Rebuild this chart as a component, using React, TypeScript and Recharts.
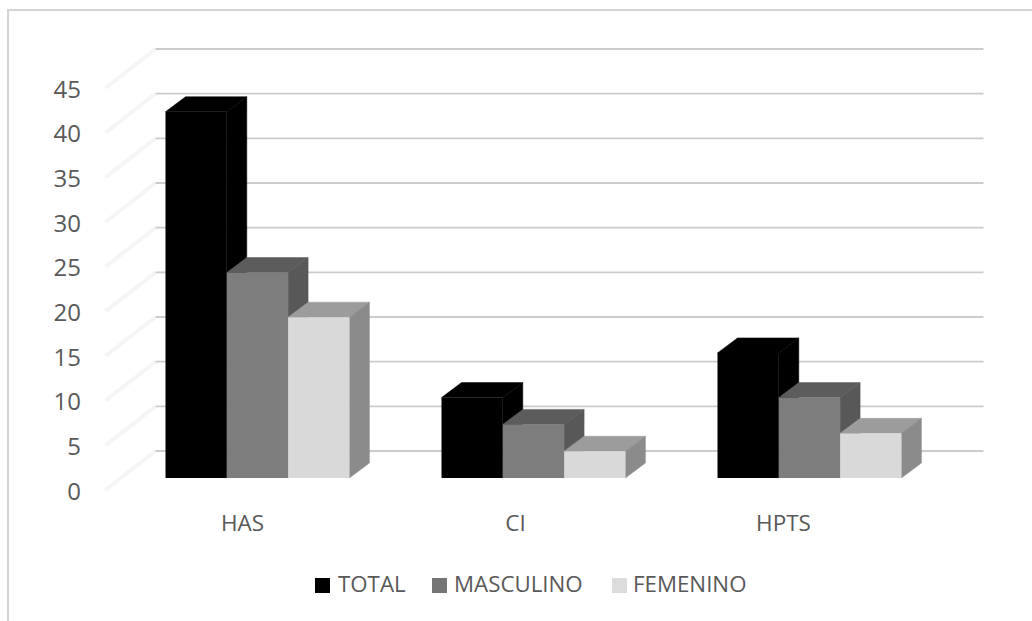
import { BarChart, Bar, XAxis, YAxis, CartesianGrid } from "recharts";

const categories = ["HAS", "CI", "HPTS"];
const total = [41, 9, 14];
const masculino = [23, 6, 9];
const femenino = [18, 3, 5];
const yTicks = [0, 5, 10, 15, 20, 25, 30, 35, 40, 45];

const data = categories.map((name, i) => ({
  name,
  TOTAL: total[i],
  MASCULINO: masculino[i],
  FEMENINO: femenino[i],
}));

const FONT = "'Open Sans', sans-serif";
const TEXT_COLOR = "#595959";
const GRID_COLOR = "#cbcbcb";
const WALL_COLOR = "#f5f5f5";
const FRAME_COLOR = "#d4d4d4";

// depth of the extruded columns and of the back wall
const DEPTH_X = 20;
const DEPTH_Y = 15;
const WALL_X = 36;
const WALL_Y = 27;

const LABEL_SHIFT: Record<string, number> = { HAS: -15, CI: -18, HPTS: -26 };

const LEGEND = [
  { label: "TOTAL", color: "#000000", left: 315, gap: 8 },
  { label: "MASCULINO", color: "#757575", left: 432, gap: 7 },
  { label: "FEMENINO", color: "#dcdcdc", left: 612, gap: 6 },
];

function column(front: string, top: string, side: string) {
  return (props: any) => {
    const { x, y, width, height } = props;
    const r = x + width;
    const b = y + height;
    return (
      <g>
        <polygon
          points={`${x},${y} ${x + DEPTH_X},${y - DEPTH_Y} ${r + DEPTH_X},${y - DEPTH_Y} ${r},${y}`}
          fill={top}
          stroke={top}
          strokeWidth={0.5}
        />
        <polygon
          points={`${r},${y} ${r + DEPTH_X},${y - DEPTH_Y} ${r + DEPTH_X},${b - DEPTH_Y} ${r},${b}`}
          fill={side}
          stroke={side}
          strokeWidth={0.5}
        />
        <rect x={x} y={y} width={width} height={height} fill={front} />
      </g>
    );
  };
}

// horizontal rule on the back wall plus its faint run down the side wall
function WallLine(props: any) {
  const { x1, y1, x2 } = props;
  const wallY = y1 - WALL_Y;
  return (
    <g>
      <line x1={x1 - 14} y1={y1 + 12} x2={x1 + WALL_X} y2={wallY} stroke={WALL_COLOR} strokeWidth={4} />
      <line x1={x1 + WALL_X} y1={wallY} x2={x2 + WALL_X} y2={wallY} stroke={GRID_COLOR} strokeWidth={1.8} />
    </g>
  );
}

function YTick(props: any) {
  const { y, payload } = props;
  return (
    <text x={81} y={y + 21.5} textAnchor="end" fontFamily={FONT} fontSize={24} fill={TEXT_COLOR}>
      {payload.value}
    </text>
  );
}

function XTick(props: any) {
  const { x, y, payload } = props;
  return (
    <text
      x={x + (LABEL_SHIFT[payload.value] ?? 0)}
      y={y + 45}
      textAnchor="middle"
      fontFamily={FONT}
      fontSize={22.5}
      fill={TEXT_COLOR}
    >
      {payload.value}
    </text>
  );
}

export default function App() {
  return (
    <div style={{ position: "absolute", left: 0, top: 0, width: 1032, height: 621, background: "#fff", overflow: "hidden" }}>
      <div style={{ position: "absolute", left: 7, top: 9, width: 1025, height: 2, background: FRAME_COLOR }} />
      <div style={{ position: "absolute", left: 7, top: 9, width: 2, height: 612, background: FRAME_COLOR }} />
      <div style={{ position: "absolute", left: 0, top: 0 }}>
        <BarChart
          width={1032}
          height={621}
          data={data}
          barSize={61.3}
          barGap={0}
          margin={{ top: 76, right: 84.5, bottom: 0, left: 0 }}
        >
          <CartesianGrid vertical={false} horizontal={(p: any) => <WallLine key={p.key ?? p.index} {...p} />} />
          <XAxis dataKey="name" height={143} axisLine={false} tickLine={false} tick={<XTick />} interval={0} />
          <YAxis width={119.5} domain={[0, 45]} ticks={yTicks} axisLine={false} tickLine={false} tick={<YTick />} />
          <Bar dataKey="TOTAL" isAnimationActive={false} shape={column("#000000", "#000000", "#000000")} />
          <Bar dataKey="MASCULINO" isAnimationActive={false} shape={column("#7d7d7d", "#5c5c5c", "#585858")} />
          <Bar dataKey="FEMENINO" isAnimationActive={false} shape={column("#d9d9d9", "#9c9c9c", "#8b8b8b")} />
        </BarChart>
      </div>
      {LEGEND.map((item) => (
        <div
          key={item.label}
          style={{
            position: "absolute",
            left: item.left,
            top: 569,
            height: 30,
            lineHeight: "30px",
            fontFamily: FONT,
            fontSize: 22.3,
            color: TEXT_COLOR,
            whiteSpace: "nowrap",
          }}
        >
          <span
            style={{
              display: "inline-block",
              width: 15,
              height: 15,
              marginRight: item.gap,
              background: item.color,
              verticalAlign: "-1px",
            }}
          />
          {item.label}
        </div>
      ))}
    </div>
  );
}
